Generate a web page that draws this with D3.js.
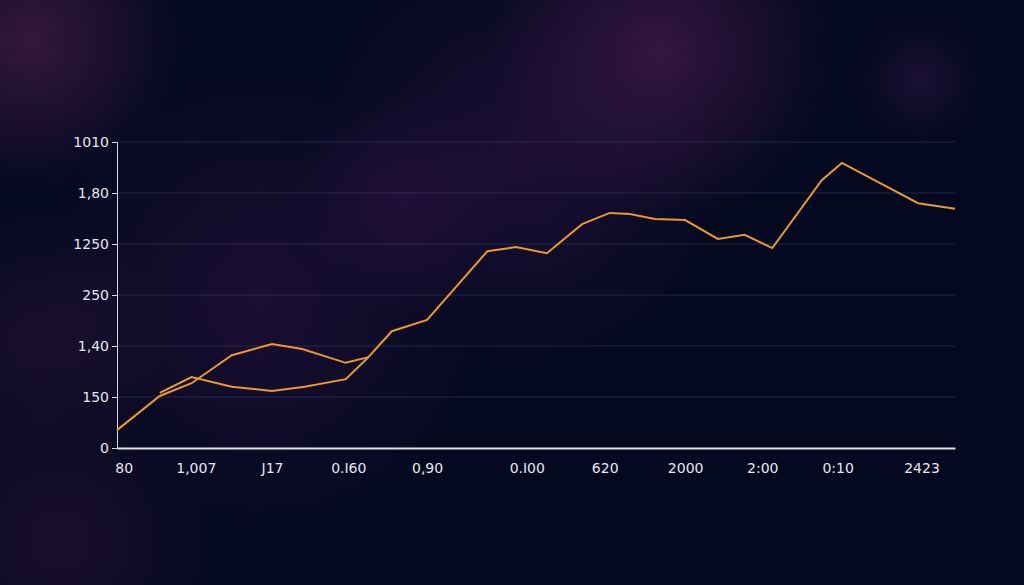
<!DOCTYPE html>
<html><head><meta charset="utf-8">
<script src="https://cdn.jsdelivr.net/npm/d3@7"></script>
<style>body{margin:0;background:#050920;overflow:hidden}</style>
</head><body><div id="chart"></div>
<script>
const yTicks = [0, 1, 2, 3, 4, 5, 6]
const yLabels = ["0", "150", "1,40", "250", "1250", "1,80", "1010"]
const xTicks = [0.8, 9.4, 18.5, 27.6, 37, 48.9, 58.2, 67.8, 77, 86, 96]
const xLabels = ["80", "1,007", "J17", "0.I60", "0,90", "0.I00", "620", "2000", "2:00", "0:10", "2423"]
const mainX = [0, 5.1, 8.9, 13.7, 18.5, 22.1, 27.3, 30.0, 32.8, 37.0, 44.2, 47.6, 51.3, 55.5, 58.8, 61.2, 64.2, 67.8, 71.7, 74.9, 78.2, 84.1, 86.5, 95.6, 100]
const mainY = [0.35, 1.02, 1.27, 1.82, 2.04, 1.94, 1.67, 1.78, 2.29, 2.51, 3.86, 3.94, 3.82, 4.39, 4.61, 4.59, 4.49, 4.47, 4.1, 4.18, 3.92, 5.25, 5.59, 4.8, 4.69]
const altX = [5.1, 8.9, 13.7, 18.5, 22.4, 27.3, 30.0]
const altY = [1.08, 1.39, 1.2, 1.12, 1.2, 1.35, 1.78]

const width = 1024, height = 585
const margin = {top: 142, right: 69, bottom: 137, left: 117}
const w = width - margin.left - margin.right, h = height - margin.top - margin.bottom

const svg = d3.select("#chart").append("svg").attr("width", width).attr("height", height)
const defs = svg.append("defs")
svg.append("rect").attr("width", width).attr("height", height).attr("fill", "#050920")
// soft purple haze: [cx, cy, r, color, opacity]
const blobs = [[30, 40, 150, "#5a2256", 0.55], [660, 50, 170, "#5a1f5a", 0.55], [520, 160, 200, "#3a1650", 0.45],
    [260, 300, 220, "#36144a", 0.45], [40, 340, 130, "#3a1744", 0.4], [60, 540, 150, "#3a1544", 0.4],
    [920, 80, 60, "#3a1a50", 0.4], [400, 200, 110, "#3a1650", 0.35]]
blobs.forEach((b, i) => {
    const gr = defs.append("radialGradient").attr("id", "blob" + i)
    gr.append("stop").attr("offset", "0%").attr("stop-color", b[3]).attr("stop-opacity", b[4])
    gr.append("stop").attr("offset", "100%").attr("stop-color", b[3]).attr("stop-opacity", 0)
    svg.append("circle").attr("cx", b[0]).attr("cy", b[1]).attr("r", b[2]).attr("fill", `url(#blob${i})`)
})

const g = svg.append("g").attr("transform", `translate(${margin.left},${margin.top})`)
const x = d3.scaleLinear().domain([0, 100]).range([0, w])
const y = d3.scaleLinear().domain([0, 6]).range([h, 0])

g.selectAll(".grid").data(yTicks.slice(1)).enter().append("line")
    .attr("x1", 0).attr("x2", w).attr("y1", d => y(d)).attr("y2", d => y(d))
    .attr("stroke", "#3a3f66").attr("stroke-opacity", 0.55).attr("stroke-width", 1)

const yAxis = g.append("g").call(d3.axisLeft(y).tickValues(yTicks).tickFormat((d, i) => yLabels[i]).tickSize(5))
yAxis.selectAll("text").attr("fill", "#e6e6ee").style("font-size", "14px").style("font-family", "DejaVu Sans")
yAxis.selectAll("line").attr("stroke", "#d8d8e0")
yAxis.select(".domain").attr("stroke", "#d8d8e0")

const xAxis = g.append("g").attr("transform", `translate(0,${h})`)
    .call(d3.axisBottom(x).tickValues(xTicks).tickFormat((d, i) => xLabels[i]).tickSize(0).tickPadding(15))
xAxis.selectAll("text").attr("fill", "#e6e6ee").style("font-size", "14px").style("font-family", "DejaVu Sans")
xAxis.select(".domain").attr("stroke", "#e0e0e8").attr("stroke-width", 2)

const line = d3.line().x(d => x(d[0])).y(d => y(d[1]))
g.append("path").attr("d", line(d3.zip(altX, altY))).attr("fill", "none").attr("stroke", "#e89a2c").attr("stroke-width", 2)
g.append("path").attr("d", line(d3.zip(mainX, mainY))).attr("fill", "none").attr("stroke", "#e89a2c").attr("stroke-width", 2)
</script></body></html>
